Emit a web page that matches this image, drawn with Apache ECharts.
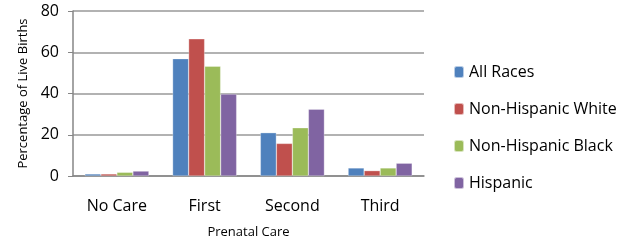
<!DOCTYPE html>
<html>
<head>
<meta charset="utf-8">
<script src="https://cdn.jsdelivr.net/npm/echarts@6/dist/echarts.min.js"></script>
<style>
  html, body { margin: 0; padding: 0; background: #fff; }
  #chart { width: 631px; height: 242px; }
</style>
</head>
<body>
<div id="chart"></div>
<script>
// Prenatal care by race, percentage of live births
const categories = ['No Care', 'First', 'Second', 'Third']
const allRaces = [1.0, 56.9, 21.0, 3.9]
const nhWhite = [1.0, 66.5, 15.8, 2.6]
const nhBlack = [1.8, 53.2, 23.4, 3.9]
const hispanic = [2.4, 39.7, 32.4, 6.2]
const yTicks = [0, 20, 40, 60, 80]

const font = 'Open Sans, Liberation Sans, sans-serif'
const chart = echarts.init(document.getElementById('chart'))

function bar(name, data, color) {
  return {
    name,
    type: 'bar',
    data,
    barGap: '0%',
    barCategoryGap: '27%',
    itemStyle: { color, borderColor: 'rgba(255,255,255,0.6)', borderWidth: 0.5 },
  }
}

chart.setOption({
  animation: false,
  backgroundColor: '#fff',
  textStyle: { fontFamily: font },
  grid: { left: 73, right: 207, top: 11, bottom: 66, outerBoundsMode: 'none' },
  legend: {
    orient: 'vertical',
    left: 453,
    top: 64,
    padding: 0,
    itemWidth: 10,
    itemHeight: 12,
    itemGap: 21,
    textStyle: { fontSize: 16, color: '#000', fontFamily: font },
    data: ['All Races', 'Non-Hispanic White', 'Non-Hispanic Black', 'Hispanic'],
  },
  xAxis: {
    type: 'category',
    data: categories,
    name: 'Prenatal Care',
    nameLocation: 'middle',
    nameGap: 50,
    nameTextStyle: { fontSize: 13, color: '#000' },
    axisLine: { lineStyle: { color: '#868686', width: 1.5 } },
    axisTick: { show: false },
    axisLabel: { fontSize: 16, color: '#000', margin: 22 },
  },
  yAxis: {
    type: 'value',
    min: yTicks[0],
    max: yTicks[yTicks.length - 1],
    interval: 20,
    name: 'Percentage of Live Births',
    nameLocation: 'middle',
    nameGap: 43,
    nameRotate: 90,
    nameTextStyle: { fontSize: 13, color: '#000' },
    axisLine: { show: true, lineStyle: { color: '#868686', width: 1.5 } },
    axisTick: { show: true, length: 5, lineStyle: { color: '#868686' } },
    axisLabel: { fontSize: 16, color: '#000', margin: 14 },
    splitLine: { lineStyle: { color: '#999', width: 1.5 } },
  },
  series: [
    bar('All Races', allRaces, '#4F81BD'),
    bar('Non-Hispanic White', nhWhite, '#C0504D'),
    bar('Non-Hispanic Black', nhBlack, '#9BBB59'),
    bar('Hispanic', hispanic, '#8064A2'),
  ],
})
</script>
</body>
</html>
